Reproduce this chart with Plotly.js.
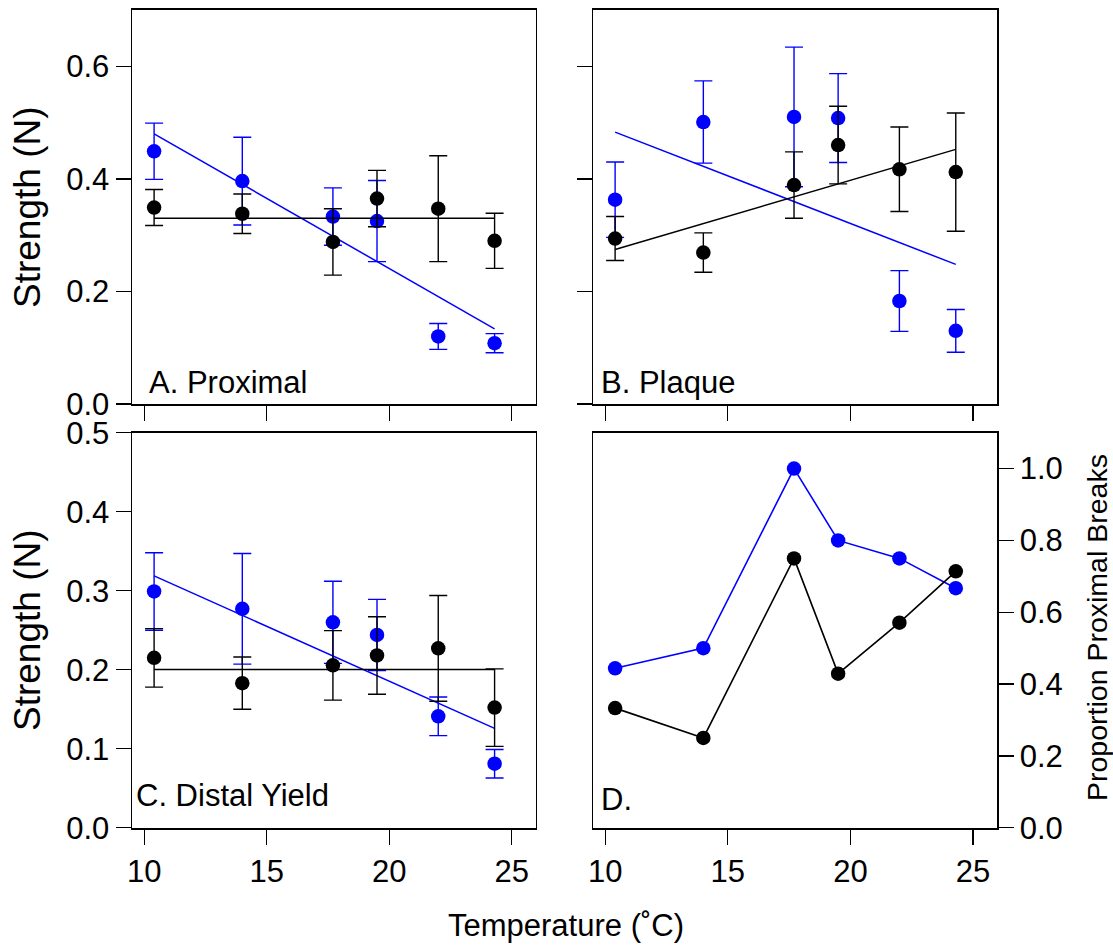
<!DOCTYPE html>
<html>
<head>
<meta charset="utf-8">
<script src="https://cdn.plot.ly/plotly-3.0.1.min.js"></script>
<style>html,body{margin:0;padding:0;background:#fff;}#chart{width:1113px;height:947px;}</style>
</head>
<body>
<div id="chart"></div>
<script>
// ---------- data ----------
var temperature = [10.4, 14.0, 17.7, 19.5, 22.0, 24.3];

// Panel A: Proximal
var proxBlack    = [0.349, 0.338, 0.288, 0.365, 0.347, 0.290];
var proxBlackSE  = [0.032, 0.035, 0.059, 0.050, 0.094, 0.049];
var proxBlue     = [0.449, 0.396, 0.333, 0.325, 0.120, 0.108];
var proxBlueSE   = [0.050, 0.078, 0.051, 0.072, 0.023, 0.017];
var proxBlackFit = [0.330, 0.330];
var proxBlueFit  = [0.480, 0.1335];

// Panel B: Plaque
var plaqBlack    = [0.294, 0.269, 0.389, 0.460, 0.417, 0.412];
var plaqBlackSE  = [0.039, 0.035, 0.059, 0.069, 0.075, 0.105];
var plaqBlue     = [0.363, 0.501, 0.510, 0.508, 0.183, 0.130];
var plaqBlueSE   = [0.067, 0.073, 0.124, 0.079, 0.054, 0.038];
var plaqBlackFit = [0.2746, 0.4524];
var plaqBlueFit  = [0.4831, 0.248];

// Panel C: Distal Yield
var distBlack    = [0.215, 0.183, 0.2055, 0.218, 0.227, 0.152];
var distBlackSE  = [0.037, 0.033, 0.044, 0.049, 0.067, 0.049];
var distBlue     = [0.299, 0.277, 0.260, 0.244, 0.141, 0.081];
var distBlueSE   = [0.049, 0.070, 0.052, 0.045, 0.0245, 0.018];
var distBlackFit = [0.2003, 0.2003];
var distBlueFit  = [0.3188, 0.1257];

// Panel D: Proportion proximal breaks
var propBlack = [0.333, 0.250, 0.750, 0.429, 0.571, 0.714];
var propBlue  = [0.444, 0.500, 1.000, 0.800, 0.750, 0.667];

var xTicks = [10, 15, 20, 25];
var yTicksAB = [0, 0.2, 0.4, 0.6];
var yTicksC = [0, 0.1, 0.2, 0.3, 0.4, 0.5];
var yTicksD = [0, 0.2, 0.4, 0.6, 0.8, 1.0];

var panelLabels = ['A. Proximal', 'B. Plaque', 'C. Distal Yield', 'D.'];
var yTitleLeft = 'Strength (N)';
var yTitleRight = 'Proportion Proximal Breaks';
var xTitle = 'Temperature (˚C)';

// ---------- drawing ----------
var W = 1113, H = 947;
var BLUE = '#0000FF', BLACK = '#000000';
var FONT = 'Liberation Sans, Arial, Helvetica, sans-serif';
var FS = 31;
function px(x) { return x / W; }
function py(y) { return 1 - y / H; }
var fitX = [temperature[0], temperature[temperature.length - 1]];

function errPts(y, se, color, xa, ya) {
  return {
    x: temperature, y: y, xaxis: xa, yaxis: ya, type: 'scatter', mode: 'markers',
    marker: {color: color, size: 14.5},
    error_y: {type: 'data', array: se, visible: true, color: color, thickness: 1.4, width: 9},
    hoverinfo: 'skip'
  };
}
function fitLine(y, color, xa, ya) {
  return {x: fitX, y: y, xaxis: xa, yaxis: ya, type: 'scatter', mode: 'lines',
          line: {color: color, width: 1.5}, hoverinfo: 'skip'};
}
function propLine(y, color) {
  return {x: temperature, y: y, xaxis: 'x4', yaxis: 'y4', type: 'scatter', mode: 'lines+markers',
          line: {color: color, width: 1.6}, marker: {color: color, size: 14.5}, hoverinfo: 'skip'};
}

var traces = [
  errPts(proxBlue, proxBlueSE, BLUE, 'x', 'y'),
  fitLine(proxBlueFit, BLUE, 'x', 'y'),
  errPts(proxBlack, proxBlackSE, BLACK, 'x', 'y'),
  fitLine(proxBlackFit, BLACK, 'x', 'y'),

  errPts(plaqBlue, plaqBlueSE, BLUE, 'x2', 'y2'),
  fitLine(plaqBlueFit, BLUE, 'x2', 'y2'),
  errPts(plaqBlack, plaqBlackSE, BLACK, 'x2', 'y2'),
  fitLine(plaqBlackFit, BLACK, 'x2', 'y2'),

  errPts(distBlue, distBlueSE, BLUE, 'x3', 'y3'),
  fitLine(distBlueFit, BLUE, 'x3', 'y3'),
  errPts(distBlack, distBlackSE, BLACK, 'x3', 'y3'),
  fitLine(distBlackFit, BLACK, 'x3', 'y3'),

  propLine(propBlue, BLUE),
  propLine(propBlack, BLACK)
];

var leftDom = [px(132.3), px(535.5)];
var rightDom = [px(593.3), px(996.7)];
var topDom = [py(404), py(10)];
var botDom = [py(827.7), py(432.7)];
var XR = [9.51, 25.97];

function xAxis(dom, anchor, labels) {
  return {domain: dom, anchor: anchor, range: XR, tickvals: xTicks, showticklabels: labels,
          ticks: 'outside', ticklen: 15, tickwidth: 1.3, tickcolor: BLACK,
          showline: true, linewidth: 1.8, linecolor: BLACK, mirror: true,
          showgrid: false, zeroline: false, fixedrange: true,
          tickfont: {family: FONT, size: FS, color: BLACK}};
}
function yAxis(dom, anchor, range, ticks, labels, side) {
  return {domain: dom, anchor: anchor, range: range, tickvals: ticks, showticklabels: labels,
          tickformat: '.1f', side: side || 'left',
          ticks: 'outside', ticklen: 15, tickwidth: 1.3, tickcolor: BLACK,
          showline: true, linewidth: 1.8, linecolor: BLACK, mirror: true,
          showgrid: false, zeroline: false, fixedrange: true,
          tickfont: {family: FONT, size: FS, color: BLACK}};
}

function label(text, xPix, yPix) {
  return {text: text, xref: 'paper', yref: 'paper', x: px(xPix), y: py(yPix),
          xanchor: 'left', yanchor: 'middle', showarrow: false,
          font: {family: FONT, size: FS, color: BLACK}};
}

var layout = {
  width: W, height: H, margin: {l: 0, r: 0, t: 0, b: 0},
  paper_bgcolor: '#ffffff', plot_bgcolor: '#ffffff', showlegend: false,
  xaxis: xAxis(leftDom, 'y', false),
  yaxis: yAxis(topDom, 'x', [0, 0.7], yTicksAB, true),
  xaxis2: xAxis(rightDom, 'y2', false),
  yaxis2: yAxis(topDom, 'x2', [0, 0.7], yTicksAB, false),
  xaxis3: xAxis(leftDom, 'y3', true),
  yaxis3: yAxis(botDom, 'x3', [0, 0.5], yTicksC, true),
  xaxis4: xAxis(rightDom, 'y4', true),
  yaxis4: yAxis(botDom, 'x4', [0, 1.1], yTicksD, true, 'right'),
  annotations: [
    label(panelLabels[0], 147, 382),
    label(panelLabels[1], 599, 382),
    label(panelLabels[2], 134, 795),
    label(panelLabels[3], 599, 799),
    {text: yTitleLeft, xref: 'paper', yref: 'paper', x: px(27), y: py(207), textangle: -90,
     xanchor: 'center', yanchor: 'middle', showarrow: false, font: {family: FONT, size: 37, color: BLACK}},
    {text: yTitleLeft, xref: 'paper', yref: 'paper', x: px(27), y: py(630), textangle: -90,
     xanchor: 'center', yanchor: 'middle', showarrow: false, font: {family: FONT, size: 37, color: BLACK}},
    {text: yTitleRight, xref: 'paper', yref: 'paper', x: px(1097), y: py(628), textangle: -90,
     xanchor: 'center', yanchor: 'middle', showarrow: false, font: {family: FONT, size: 28.5, color: BLACK}},
    {text: xTitle, xref: 'paper', yref: 'paper', x: px(566), y: py(925),
     xanchor: 'center', yanchor: 'middle', showarrow: false, font: {family: FONT, size: FS, color: BLACK}}
  ]
};

Plotly.newPlot('chart', traces, layout, {staticPlot: true, displayModeBar: false});
</script>
</body>
</html>
